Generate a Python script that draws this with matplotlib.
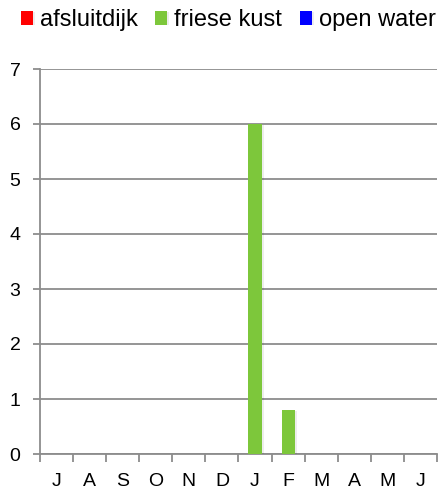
import matplotlib
matplotlib.use("Agg")
import matplotlib.pyplot as plt
import matplotlib.patheffects as pe
import numpy as np

plt.rcParams['font.family'] = ['Liberation Sans', 'DejaVu Sans']

months = ["J", "A", "S", "O", "N", "D", "J", "F", "M", "A", "M", "J"]
afsluitdijk = [0, 0, 0, 0, 0, 0, 0, 0, 0, 0, 0, 0]
friese_kust = [0, 0, 0, 0, 0, 0, 6, 0.8, 0, 0, 0, 0]
open_water = [0, 0, 0, 0, 0, 0, 0, 0, 0, 0, 0, 0]
y_ticks = [0, 1, 2, 3, 4, 5, 6, 7]

series = [
    ("afsluitdijk", afsluitdijk, "#ff0000"),
    ("friese kust", friese_kust, "#7dc73b"),
    ("open water", open_water, "#0000ff"),
]

fig = plt.figure(figsize=(4.42, 4.94), dpi=100)
ax = fig.add_axes([40 / 442, 40 / 494, 397 / 442, 385 / 494])

x = np.arange(len(months))
bw = 0.4
grid_col = "#8c8c8c"

for i, (name, vals, col) in enumerate(series):
    offs = (i - 1) * bw
    bars = ax.bar(x + offs, vals, width=bw, color=col, label=name, zorder=3,
                  linewidth=0)
    for b in bars:
        b.set_path_effects([pe.SimplePatchShadow(offset=(1.5, -0.5), shadow_rgbFace="#000000",
                                                  alpha=0.07),
                            pe.Normal()])

ax.set_xlim(-0.5, len(months) - 0.5)
ax.set_ylim(0, 7)
ax.set_yticks(y_ticks)
ax.yaxis.grid(True, color=grid_col, linewidth=1.3, zorder=0)
ax.set_axisbelow(True)

ax.set_xticks(np.arange(-0.5, len(months) + 0.5, 1.0))
ax.set_xticklabels([])
ax.set_xticks(x, minor=True)
ax.set_xticklabels(months, minor=True, fontsize=14)
ax.tick_params(axis="x", which="major", length=6, width=1.3, color=grid_col, direction="out")
ax.tick_params(axis="x", which="minor", length=0, pad=14)
ax.tick_params(axis="y", length=5, width=1.3, color=grid_col, labelsize=14, pad=9)

for side in ["top", "right"]:
    ax.spines[side].set_visible(False)
for side in ["left", "bottom"]:
    ax.spines[side].set_color(grid_col)
    ax.spines[side].set_linewidth(1.3)

fig.legend(loc="upper left", bbox_to_anchor=(0.026, 1.0), ncol=3, frameon=False,
           fontsize=17, handlelength=0.5, handleheight=0.5, handletextpad=0.3,
           columnspacing=0.75, borderaxespad=0.0)

fig.savefig("out.png", dpi=100)
